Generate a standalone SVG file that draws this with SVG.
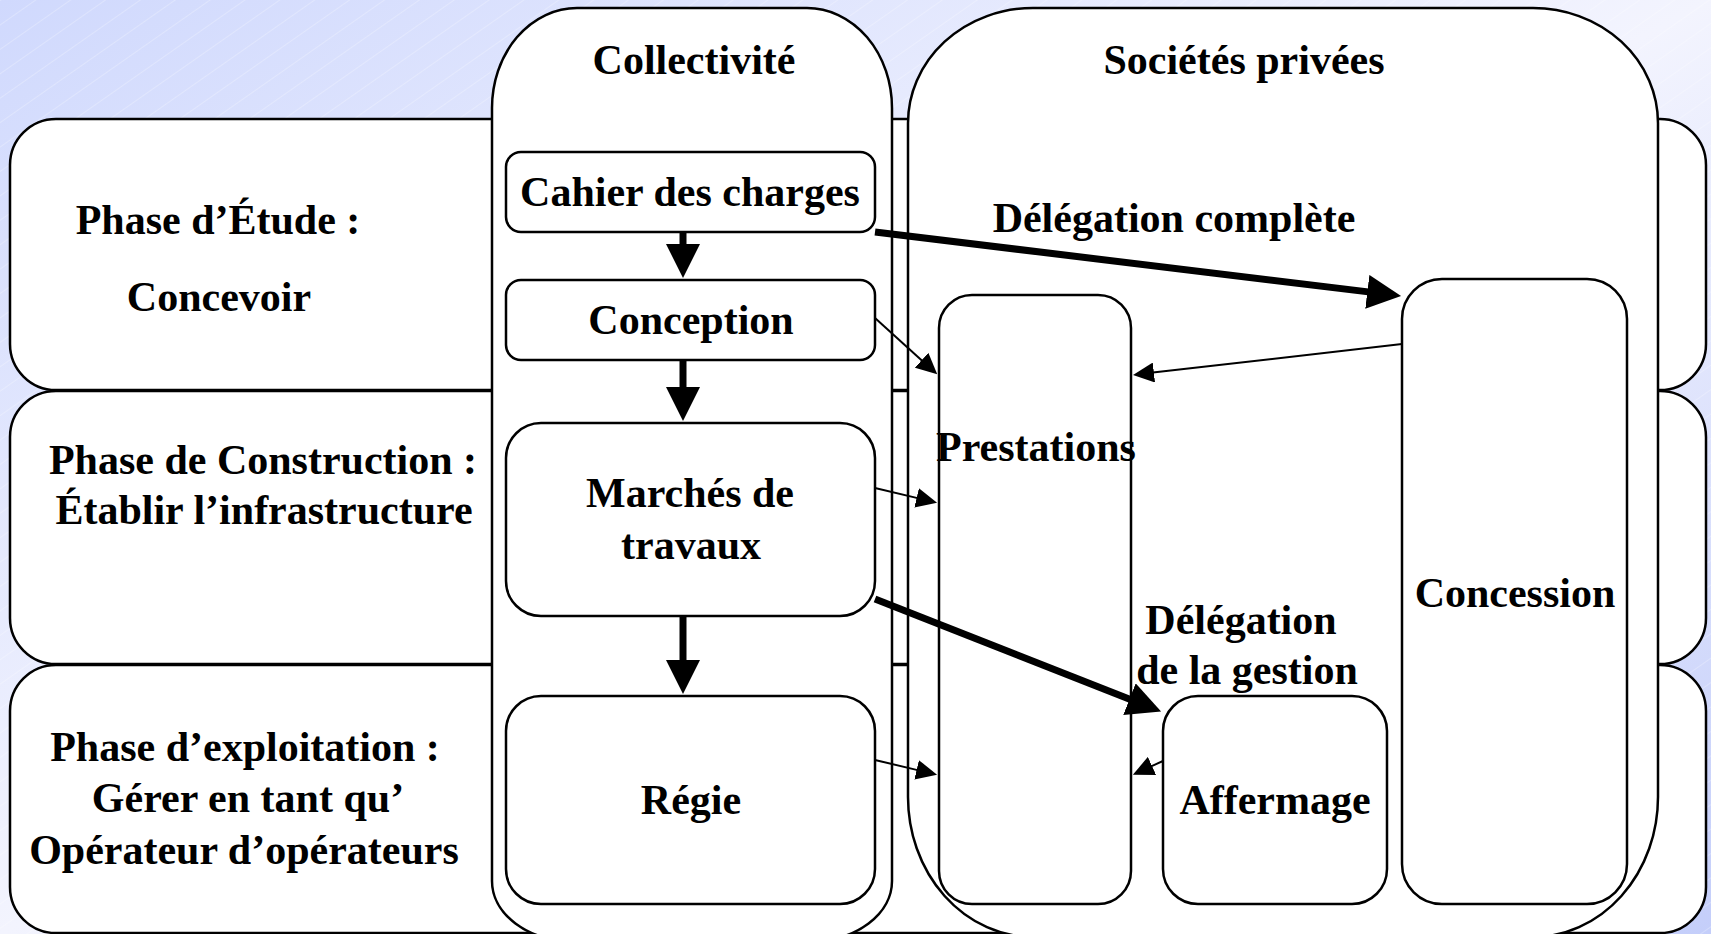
<svg xmlns="http://www.w3.org/2000/svg" width="1711" height="934" viewBox="0 0 1711 934">
<style>
.box{fill:#fff;stroke:#000;stroke-width:2.5}
.t{font-family:"Liberation Serif","Times New Roman",serif;font-weight:bold;font-size:42px;fill:#000;text-anchor:middle}
.thick{stroke:#000;stroke-width:7;fill:none}
.thin{stroke:#000;stroke-width:2;fill:none}
</style>
<defs>
<linearGradient id="bg" x1="0" y1="0" x2="1" y2="1">
<stop offset="0" stop-color="#d0d9fd"/>
<stop offset="0.5" stop-color="#f3f4fe"/>
<stop offset="1" stop-color="#c4cefa"/>
</linearGradient>
<pattern id="hatch" patternUnits="userSpaceOnUse" width="20" height="20" patternTransform="rotate(-35)">
<line x1="0" y1="0.5" x2="20" y2="0.5" stroke="#ffffff" stroke-width="1" stroke-opacity="0.25"/>
</pattern>
<marker id="hk" markerUnits="userSpaceOnUse" viewBox="0 0 34 34" markerWidth="34" markerHeight="34" refX="1" refY="17" orient="auto">
<path d="M0,0 L34,17 L0,34 Z" fill="#000"/>
</marker>
<marker id="hn" markerUnits="userSpaceOnUse" viewBox="0 0 21 20" markerWidth="21" markerHeight="20" refX="1" refY="10" orient="auto">
<path d="M0,0 L21,10 L0,20 Z" fill="#000"/>
</marker>
</defs>

<rect x="0" y="0" width="1711" height="934" fill="url(#bg)"/>
<rect x="0" y="0" width="1711" height="934" fill="url(#hatch)"/>

<g id="phase-etude">
<rect class="box" x="10" y="119" width="1696" height="271" rx="46" ry="46"/>
<text class="t" x="218" y="234">Phase d’Étude :</text>
<text class="t" x="219" y="311">Concevoir</text>
</g>
<g id="phase-construction">
<rect class="box" x="10" y="391" width="1696" height="273" rx="46" ry="46"/>
<text class="t" x="263" y="474">Phase de Construction :</text>
<text class="t" x="264" y="524">Établir l’infrastructure</text>
</g>
<g id="phase-exploitation">
<rect class="box" x="10" y="665" width="1696" height="268" rx="46" ry="46"/>
<text class="t" x="245" y="761">Phase d’exploitation :</text>
<text class="t" x="248" y="812">Gérer en tant qu’</text>
<text class="t" x="244" y="864">Opérateur d’opérateurs</text>
</g>

<g id="collectivite">
<path class="box" d="M577,8 H807 A85,100 0 0 1 892,108 V881 A80,60 0 0 1 812,941 H572 A80,60 0 0 1 492,881 V108 A85,100 0 0 1 577,8 Z"/>
<text class="t" x="694" y="74">Collectivité</text>
</g>
<g id="societes-privees">
<path class="box" d="M1033,8 H1533 A125,115 0 0 1 1658,123 V797 A125,140 0 0 1 1533,937 H1033 A125,140 0 0 1 908,797 V123 A125,115 0 0 1 1033,8 Z"/>
<text class="t" x="1244" y="74">Sociétés privées</text>
</g>

<g id="cahier-des-charges">
<rect class="box" x="506" y="152" width="369" height="80" rx="15" ry="15"/>
<text class="t" x="690" y="206">Cahier des charges</text>
</g>
<g id="conception">
<rect class="box" x="506" y="280" width="369" height="80" rx="15" ry="15"/>
<text class="t" x="691" y="334">Conception</text>
</g>
<g id="marches-de-travaux">
<rect class="box" x="506" y="423" width="369" height="193" rx="35" ry="35"/>
<text class="t" x="690" y="507">Marchés de</text>
<text class="t" x="691" y="559">travaux</text>
</g>
<g id="regie">
<rect class="box" x="506" y="696" width="369" height="208" rx="35" ry="35"/>
<text class="t" x="691" y="814">Régie</text>
</g>
<g id="prestations">
<rect class="box" x="939" y="295" width="192" height="609" rx="33" ry="33"/>
</g>
<g id="concession">
<rect class="box" x="1402" y="279" width="225" height="625" rx="40" ry="40"/>
<text class="t" x="1515" y="607">Concession</text>
</g>
<g id="affermage">
<rect class="box" x="1163" y="696" width="224" height="208" rx="35" ry="35"/>
<text class="t" x="1275" y="814">Affermage</text>
</g>

<g id="connectors">
<line class="thick" x1="683" y1="232" x2="683" y2="245" marker-end="url(#hk)"/>
<line class="thick" x1="683" y1="360" x2="683" y2="388" marker-end="url(#hk)"/>
<line class="thick" x1="683" y1="616" x2="683" y2="661" marker-end="url(#hk)"/>
<line class="thick" x1="875" y1="232" x2="1368.3" y2="291.9" marker-end="url(#hk)"/>
<line class="thick" x1="875" y1="599" x2="1130.4" y2="699.5" marker-end="url(#hk)"/>
<line class="thin" x1="875" y1="318" x2="922.4" y2="360.9" marker-end="url(#hn)"/>
<line class="thin" x1="1402" y1="344" x2="1152.9" y2="372.6" marker-end="url(#hn)"/>
<line class="thin" x1="875" y1="488" x2="917.6" y2="498.1" marker-end="url(#hn)"/>
<line class="thin" x1="875" y1="760" x2="917.6" y2="770.1" marker-end="url(#hn)"/>
<line class="thin" x1="1163" y1="761" x2="1151.1" y2="766.4" marker-end="url(#hn)"/>
<text class="t" x="1174" y="232">Délégation complète</text>
<text class="t" x="1036" y="461">Prestations</text>
<text class="t" x="1241" y="634">Délégation</text>
<text class="t" x="1247" y="684">de la gestion</text>
</g>
</svg>
